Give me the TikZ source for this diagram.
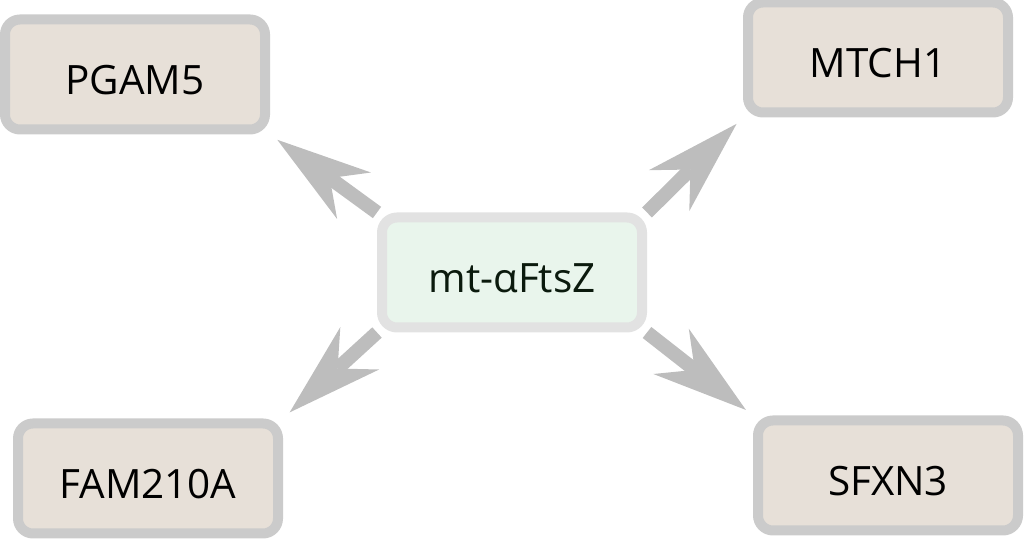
\documentclass[tikz,border=0pt]{standalone}
\usepackage{fontspec}
\setmainfont{Open Sans}
\usepackage{tikz}
\usetikzlibrary{arrows.meta}
\usetikzlibrary{positioning}

\definecolor{boxrim}{HTML}{CBCBCB}
\definecolor{boxfill}{HTML}{E7E0D8}
\definecolor{hubrim}{HTML}{E2E2E2}
\definecolor{hubfill}{HTML}{E9F5EC}
\definecolor{hubtext}{HTML}{0B1A0D}
\definecolor{arrowgray}{HTML}{BDBDBD}

\begin{document}
\begin{tikzpicture}[>={Stealth[length=1.9cm, width=1.15cm, inset=0.6cm, line width=0pt]}]
			\tikzstyle{partner} = [draw=boxrim, fill=boxfill, line width=0.2cm, rounded corners=0.3cm, minimum width=5.2cm, minimum height=2.2cm, text height=0.8cm, text depth=0cm, font=\fontsize{23}{27}\selectfont]
			\tikzstyle{hub} = [partner, draw=hubrim, fill=hubfill, text=hubtext]
			\tikzstyle{link} = [arrowgray, line width=0.28cm, shorten >=0.18cm]

			\useasboundingbox (0,0) rectangle (20.48,10.78);

			\path[->]

			node[hub] (mt) at (10.24,5.33) {mt-αFtsZ}
			node[partner, above left=1.56cm and 2.14cm of mt] (pgam) {PGAM5}
			node[partner, above right=1.9cm and 1.92cm of mt] (mtch) {MTCH1}
			node[partner, below left=1.72cm and 1.88cm of mt] (fam) {FAM210A}
			node[partner, below right=1.66cm and 2.12cm of mt] (sfxn) {SFXN3}

			(mt.north west) edge[link] (pgam.south east)
			(mt.north east) edge[link] (mtch.south west)
			(mt.south west) edge[link] (fam.north east)
			(mt.south east) edge[link] (sfxn.north west)
			;

			\end{tikzpicture}
\end{document}
